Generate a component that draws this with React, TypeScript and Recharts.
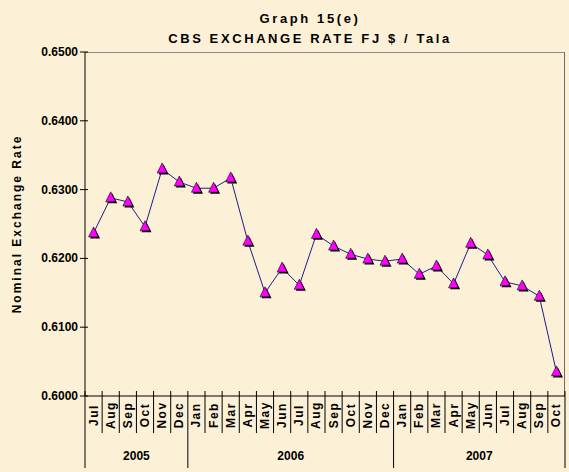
import React from 'react';
import { LineChart, Line, XAxis, YAxis } from 'recharts';

const months = [
  'Jul', 'Aug', 'Sep', 'Oct', 'Nov', 'Dec',
  'Jan', 'Feb', 'Mar', 'Apr', 'May', 'Jun', 'Jul', 'Aug', 'Sep', 'Oct', 'Nov', 'Dec',
  'Jan', 'Feb', 'Mar', 'Apr', 'May', 'Jun', 'Jul', 'Aug', 'Sep', 'Oct',
];
const yearLabels = ['2005', '2006', '2007'];
const monthsPerYear = [6, 12, 10];
const rates = [
  0.6237, 0.6288, 0.6282, 0.6246, 0.6330, 0.6311,
  0.6302, 0.6302, 0.6317, 0.6225, 0.6150, 0.6186, 0.6161, 0.6235, 0.6218, 0.6206, 0.6199, 0.6196,
  0.6199, 0.6177, 0.6189, 0.6163, 0.6222, 0.6205, 0.6166, 0.6160, 0.6145, 0.6035,
];
const yTicks = [0.6, 0.61, 0.62, 0.63, 0.64, 0.65];

const data = rates.map((rate, i) => ({ idx: String(i), rate }));

const W = 569;
const H = 472;
const PLOT_LEFT = 85;
const PLOT_RIGHT = 565;
const PLOT_TOP = 52;
const PLOT_BOTTOM = 396;
const BAND = (PLOT_RIGHT - PLOT_LEFT) / months.length;
const FONT = '"Liberation Sans", Arial, sans-serif';

// first index of every year group
const groupStarts = monthsPerYear.map((_, g) => monthsPerYear.slice(0, g).reduce((a, b) => a + b, 0));

const MonthTick = (props: any) => {
  const { x, y, payload } = props;
  const i = Number(payload.value);
  const last = i === months.length - 1;
  const yearEnd = groupStarts.includes(i + 1) || last;
  const g = groupStarts.indexOf(i);
  return (
    <g>
      {i === 0 && (
        <line x1={x - BAND / 2} x2={x - BAND / 2} y1={y - 5} y2={y + 72} stroke="#000" />
      )}
      <line x1={x + BAND / 2} x2={x + BAND / 2} y1={y - 5} y2={yearEnd ? y + 72 : y + 37} stroke="#000" />
      <text
        x={0}
        y={0}
        transform={`translate(${x},${y + 19}) rotate(-90)`}
        textAnchor="middle"
        dominantBaseline="central"
        fontFamily={FONT}
        fontWeight="bold"
        fontSize={12}
        fill="#000"
        style={{ letterSpacing: '1.5px' }}
      >
        {months[i]}
      </text>
      {g >= 0 && (
        <text
          x={x + ((monthsPerYear[g] - 1) / 2) * BAND}
          y={y + 64}
          textAnchor="middle"
          fontFamily={FONT}
          fontWeight="bold"
          fontSize={12}
          fill="#000"
        >
          {yearLabels[g]}
        </text>
      )}
    </g>
  );
};

const RateTick = (props: any) => {
  const { x, y, payload } = props;
  return (
    <g>
      <line x1={x - 5} x2={x + 3} y1={y} y2={y} stroke="#000" />
      <text
        x={x - 7}
        y={y}
        textAnchor="end"
        dominantBaseline="central"
        fontFamily={FONT}
        fontWeight="bold"
        fontSize={12}
        fill="#000"
      >
        {Number(payload.value).toFixed(4)}
      </text>
    </g>
  );
};

const TriangleDot = (props: any) => {
  const { cx, cy, index } = props;
  if (cx == null || cy == null) return null;
  const pts = (dx: number, dy: number) =>
    `${cx + dx},${cy - 6 + dy} ${cx - 5 + dx},${cy + 4 + dy} ${cx + 5 + dx},${cy + 4 + dy}`;
  return (
    <g key={`dot-${index}`}>
      <polygon points={pts(1.5, 1.5)} fill="#000" />
      <polygon points={pts(0, 0)} fill="#FF00FF" stroke="#000" strokeWidth={0.6} />
    </g>
  );
};

export default function App() {
  return (
    <div
      style={{
        position: 'fixed',
        left: 0,
        top: 0,
        width: W,
        height: H,
        background: '#FCF1D6',
        fontFamily: FONT,
      }}
    >
      <div
        style={{
          position: 'absolute',
          left: 0,
          width: 620,
          top: 9,
          textAlign: 'center',
          fontWeight: 'bold',
          fontSize: 13,
          letterSpacing: '2.6px',
          lineHeight: '20px',
          color: '#000',
        }}
      >
        <div>Graph 15(e)</div>
        <div>CBS EXCHANGE RATE FJ $ / Tala</div>
      </div>
      <div
        style={{
          position: 'absolute',
          left: 17,
          top: 224,
          transform: 'translate(-50%, -50%) rotate(-90deg)',
          whiteSpace: 'nowrap',
          fontWeight: 'bold',
          fontSize: 12,
          letterSpacing: '2px',
          color: '#000',
        }}
      >
        Nominal Exchange Rate
      </div>
      {/* plot frame (top and right edges) */}
      <div
        style={{
          position: 'absolute',
          left: PLOT_LEFT,
          top: PLOT_TOP,
          width: PLOT_RIGHT - PLOT_LEFT,
          height: PLOT_BOTTOM - PLOT_TOP,
          borderTop: '1px solid #8a8a8a',
          borderRight: '1px solid #6a6a6a',
          boxSizing: 'border-box',
        }}
      />
      <LineChart
        width={W}
        height={H}
        data={data}
        margin={{ top: PLOT_TOP, right: W - PLOT_RIGHT, bottom: 6, left: 0 }}
        style={{ position: 'absolute', left: 0, top: 0 }}
      >
        <XAxis
          dataKey="idx"
          height={70}
          interval={0}
          padding={{ left: BAND / 2, right: BAND / 2 }}
          tickLine={false}
          tickSize={0}
          tickMargin={0}
          axisLine={{ stroke: '#000' }}
          tick={<MonthTick />}
        />
        <YAxis
          width={PLOT_LEFT}
          domain={[0.6, 0.65]}
          ticks={yTicks}
          interval={0}
          tickLine={false}
          tickSize={0}
          tickMargin={0}
          axisLine={{ stroke: '#000' }}
          tick={<RateTick />}
        />
        <Line
          type="linear"
          dataKey="rate"
          stroke="#1C1C8C"
          strokeWidth={1}
          dot={<TriangleDot />}
          activeDot={false}
          isAnimationActive={false}
        />
      </LineChart>
    </div>
  );
}
